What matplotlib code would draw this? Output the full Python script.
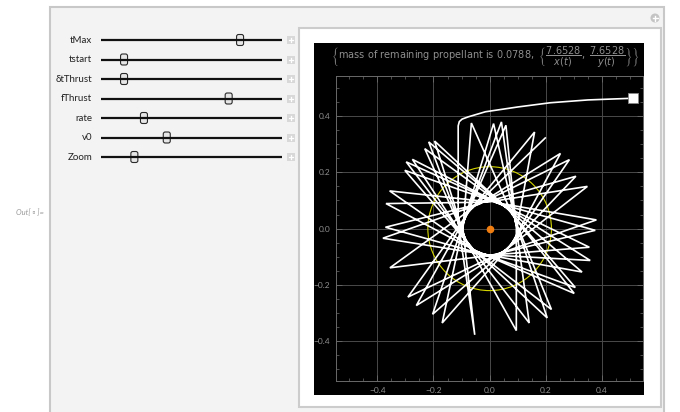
import numpy as np
import matplotlib
matplotlib.use("Agg")
import matplotlib.pyplot as plt
from matplotlib.patches import Rectangle, FancyBboxPatch, Circle

plt.rcParams['font.family'] = ['Lato', 'DejaVu Sans']

# slider controls: name and thumb position (fraction of track)
slider_names = ["tMax", "tstart", "δtThrust", "fThrust", "rate", "v0", "Zoom"]
slider_pos = [0.77, 0.129, 0.129, 0.707, 0.239, 0.365, 0.186]

# spiralling orbit: apoapsis corners alternating with periapsis passes
orbit_x = [0.198, -0.061, -0.355, 0.021, 0.380, 0.024, -0.302, -0.054, 0.305, 0.068,
           -0.196, -0.087, 0.095, 0.095, 0.160, -0.075, -0.291, 0.050, 0.348, -0.002,
           -0.356, -0.037, 0.329, 0.061, -0.217, -0.083, 0.141, 0.094, 0.058, -0.085,
           -0.261, 0.059, 0.307, -0.015, -0.369, -0.025, 0.358, 0.053, -0.231, -0.077,
           0.205, 0.092, 0.042, -0.089, -0.203, 0.071, 0.284, -0.033, -0.371, -0.009,
           0.355, 0.042, -0.275, -0.070, 0.220, 0.091, 0.014, -0.092, -0.169, 0.078,
           0.252, -0.042, -0.380, 0.004, 0.376, 0.032, -0.297, -0.058, 0.301, 0.081,
           -0.065, -0.095, -0.053]
orbit_y = [0.322, 0.073, -0.139, -0.093, 0.031, 0.092, 0.207, -0.078, -0.209, 0.066,
           0.311, -0.038, -0.362, -0.009, 0.343, 0.058, -0.243, -0.081, 0.150, 0.095,
           0.134, -0.088, -0.154, 0.073, 0.308, -0.046, -0.335, 0.011, 0.367, 0.042,
           -0.273, -0.074, 0.186, 0.094, 0.089, -0.092, -0.113, 0.079, 0.284, -0.056,
           -0.317, 0.022, 0.379, 0.033, -0.304, -0.063, 0.245, 0.089, 0.005, -0.095,
           -0.066, 0.085, 0.246, -0.065, -0.287, 0.029, 0.373, 0.024, -0.335, -0.055,
           0.267, 0.085, -0.034, -0.095, -0.006, 0.089, 0.237, -0.075, -0.230, 0.049,
           0.375, -0.001, -0.377]

# escape leg after the final burn, ending at the current position
escape_x = [-0.112, -0.112, -0.108, -0.098, -0.076, -0.015, 0.100, 0.216, 0.350, 0.429, 0.511]
escape_y = [0.020, 0.365, 0.380, 0.389, 0.397, 0.415, 0.432, 0.447, 0.457, 0.460, 0.463]

orbit_r = 0.22
ticks = [-0.4, -0.2, 0.0, 0.2, 0.4]
tick_labels = ["\u22120.4", "\u22120.2", "0.0", "0.2", "0.4"]
title = (r"$\left\{\mathrm{mass\ of\ remaining\ propellant\ is\ 0.0788,}\ "
         r"\left\{\dfrac{7.6528}{x(t)},\ \dfrac{7.6528}{y(t)}\right\}\right\}$")


def main():
    W, H = 680, 412
    fig = plt.figure(figsize=(W / 100, H / 100), dpi=100)
    fig.patch.set_facecolor("white")

    # pixel-space layer for the control panel
    bg = fig.add_axes([0, 0, 1, 1], zorder=0)
    bg.set_xlim(0, W)
    bg.set_ylim(H, 0)
    bg.axis("off")

    bg.add_patch(Rectangle((50, 7), 614, 420, facecolor="#f3f3f3",
                           edgecolor="#c8c8c8", lw=1.5))
    bg.add_patch(Rectangle((299, 28), 362, 379, facecolor="white",
                           edgecolor="#cccccc", lw=1.5))
    bg.add_patch(Rectangle((314, 43), 330, 352, facecolor="black", lw=0))

    # expand icon in the corner
    bg.add_patch(Circle((655, 18), 4.5, facecolor="#c4c4c4", lw=0))
    bg.plot([652.5, 657.5], [18, 18], color="white", lw=1)
    bg.plot([655, 655], [15.5, 20.5], color="white", lw=1)

    bg.text(44, 213, "Out[ \u25ab ]=", ha="right", va="center", fontsize=5.5,
            style="italic", color="#9a9a9a")

    x0, x1 = 100.7, 281.7
    for i, (name, p) in enumerate(zip(slider_names, slider_pos)):
        y = 40 + i * 19.5
        bg.text(92, y, name, ha="right", va="center", fontsize=7, color="#222222")
        bg.plot([x0, x1], [y, y], color="#111111", lw=1.6, solid_capstyle="butt")
        tx = x0 + p * (x1 - x0)
        bg.add_patch(FancyBboxPatch((tx - 3.5, y - 5.5), 7, 11,
                                    boxstyle="round,pad=0,rounding_size=2",
                                    facecolor="#e6e6e6", edgecolor="#2a2a2a", lw=0.8))
        bg.add_patch(Rectangle((287, y - 4), 8, 8, facecolor="#d8d8d8", lw=0))
        bg.plot([289, 293], [y, y], color="white", lw=0.9)
        bg.plot([291, 291], [y - 2, y + 2], color="white", lw=0.9)

    bg.text(486, 57, title, ha="center", va="center", fontsize=7, color="#8f8f8f")

    # trajectory plot
    ax = fig.add_axes([336 / W, 1 - 381 / H, 307 / W, 305 / H], zorder=1)
    ax.set_facecolor("black")
    ax.set_xlim(-0.547, 0.546)
    ax.set_ylim(-0.541, 0.542)

    ax.set_xticks(ticks)
    ax.set_xticklabels(tick_labels)
    ax.set_yticks(ticks)
    ax.set_yticklabels(tick_labels)
    ax.set_xticks(np.arange(-0.5, 0.51, 0.05), minor=True)
    ax.set_yticks(np.arange(-0.5, 0.51, 0.05), minor=True)
    ax.tick_params(which="both", direction="in", top=True, right=True,
                   colors="#6a6a6a", labelcolor="#8f8f8f", labelsize=6, pad=4)
    ax.tick_params(which="major", length=4, width=0.6)
    ax.tick_params(which="minor", length=2, width=0.5)
    for s in ax.spines.values():
        s.set_color("#6a6a6a")
        s.set_linewidth(0.7)
    ax.grid(True, color="#4a4a4a", lw=0.7)
    ax.set_axisbelow(True)

    ax.add_patch(Circle((0, 0), orbit_r, fill=False, edgecolor="#d6d600", lw=0.8, zorder=2))

    ax.plot(orbit_x + escape_x, orbit_y + escape_y, color="white", lw=1.2,
            solid_joinstyle="miter", zorder=3)
    ax.plot(escape_x[-1], escape_y[-1], "s", markersize=6.5, markerfacecolor="white",
            markeredgecolor="#888888", markeredgewidth=0.6, zorder=4)
    ax.plot(0, 0, "o", markersize=4.5, color="#f07d10", zorder=4)

    fig.savefig("out.png", dpi=100)


if __name__ == '__main__':
    main()
